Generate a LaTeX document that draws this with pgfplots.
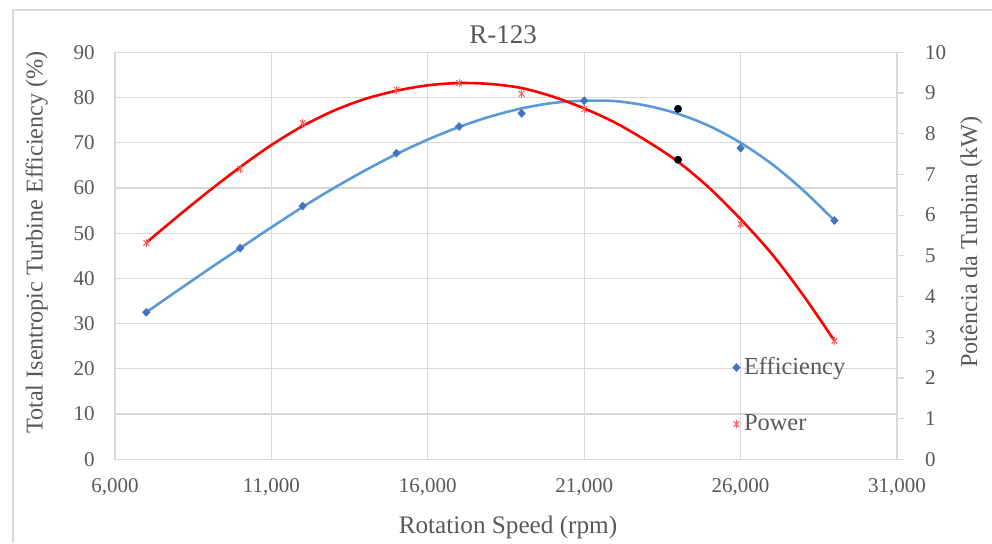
\documentclass[border=0pt]{standalone}
\usepackage{fontspec}
\setmainfont{Liberation Serif}
\usepackage{pgfplots}
\pgfplotsset{compat=1.18}
\definecolor{effblue}{HTML}{4472C4}
\definecolor{trendblue}{HTML}{5B9BD5}
\definecolor{powred}{HTML}{FF5B5B}
\definecolor{trendred}{HTML}{FF0000}
\definecolor{txtgray}{HTML}{595959}
\definecolor{gridgray}{HTML}{D9D9D9}
\pgfplotsset{
  common/.style={
    at={(57.5pt,41.85pt)}, anchor=south west,
    scale only axis, width=391pt, height=203.5pt,
    xmin=6000, xmax=31000,
    xtick={6000,11000,16000,21000,26000,31000},
    scaled x ticks=false, scaled y ticks=false,
    /pgf/number format/assume math mode=true,
    ticklabel style={font=\fontsize{10.5}{12}\selectfont, text=txtgray},
  },
  starlegend/.style={legend image code/.code={\draw[##1] plot coordinates {(0pt,0pt)}; \draw[##1, mark=|] plot coordinates {(0pt,0pt)};}},
  effmark/.style={only marks, mark=diamond*, mark size=1.9pt, color=effblue, mark options={xscale=1.25}},
}
\begin{document}
\begin{tikzpicture}[x=1pt,y=1pt]
\useasboundingbox (0,0) rectangle (496,271.5);
\fill[white] (0,0) rectangle (496,271.5);
\draw[gridgray, line width=0.6pt] (6.5,0) -- (6.5,266.5) -- (496,266.5);
\begin{axis}[common, ymin=0, ymax=90, ytick={0,10,...,90},
  axis line style={gridgray, line width=0.6pt},
  grid=major, major grid style={gridgray, line width=0.6pt},
  major tick length=0pt,
  xticklabel style={yshift=-6.2pt},
  yticklabel style={xshift=-6.7pt},
]
\addplot[trendblue, line width=1.3pt, smooth, forget plot] coordinates {
(7000,32.5) (8000,37.3) (9000,42.05) (10000,46.7) (11000,51.3) (12000,55.8)
(13000,60.0) (14000,63.9) (15000,67.5) (16000,70.7) (17000,73.5) (18000,75.8)
(19000,77.6) (20000,78.8) (21000,79.3) (22000,79.2) (23000,78.2) (24000,76.4)
(25000,73.7) (26000,70.0) (27000,65.3) (28000,59.5) (29000,52.8)};
\addplot[effmark, forget plot] coordinates {
(7000,32.5) (10000,46.7) (12000,56.0) (15000,67.7) (17000,73.6) (19000,76.5)
(21000,79.3) (26000,68.8) (29000,52.8)};
\addplot[only marks, mark=*, mark size=1.75pt, color=black, forget plot] coordinates {(24000,77.5)};
\end{axis}
\begin{axis}[common, ymin=0, ymax=10, ytick={0,1,...,10},
  axis x line=none, axis y line*=right,
  y axis line style={gridgray, line width=0.6pt},
  ytick style={gridgray, line width=0.6pt}, tick align=outside, major tick length=3.5pt,
  ytick pos=right,
  yticklabel style={xshift=7pt},
  legend cell align=left,
  legend style={draw=none, fill=none, at={(0.782,0.271)}, anchor=north west,
    font=\fontsize{12.2}{14}\selectfont, text=txtgray, row sep=14.5pt,
    /tikz/every even column/.style={column sep=3.5pt}},
  legend image code/.code={\draw[#1] plot coordinates {(0pt,0pt)};},
]
\addlegendimage{effmark}
\addlegendentry{Efficiency}
\addplot[trendred, line width=1.3pt, smooth, forget plot] coordinates {
(7000,5.322) (8000,5.967) (9000,6.589) (10000,7.178) (11000,7.722) (12000,8.189)
(13000,8.567) (14000,8.856) (15000,9.056) (16000,9.189) (17000,9.244) (18000,9.222)
(19000,9.122) (20000,8.911) (21000,8.622) (22000,8.267) (23000,7.822) (24000,7.311)
(25000,6.667) (26000,5.900) (27000,5.044) (28000,4.033) (29000,2.911)};
\addplot[only marks, mark=x, mark size=2pt, color=powred, line width=0.5pt, starlegend] coordinates {
(7000,5.32) (10000,7.13) (12000,8.26) (15000,9.08) (17000,9.24) (19000,8.98)
(21000,8.60) (26000,5.78) (29000,2.91)};
\addlegendentry{Power}
\addplot[only marks, mark=|, mark size=2pt, color=powred, line width=0.5pt, forget plot] coordinates {
(7000,5.32) (10000,7.13) (12000,8.26) (15000,9.08) (17000,9.24) (19000,8.98)
(21000,8.60) (26000,5.78) (29000,2.91)};
\addplot[only marks, mark=*, mark size=1.75pt, color=black, forget plot] coordinates {(24000,7.36)};
\end{axis}
\node[anchor=base, font=\fontsize{13.5}{16}\selectfont, text=txtgray] at (251.5,250) {R-123};
\node[anchor=base, font=\fontsize{12.6}{15}\selectfont, text=txtgray] at (254,5) {Rotation Speed (rpm)};
\node[anchor=base, rotate=90, font=\fontsize{12.1}{15}\selectfont, text=txtgray] at (21.3,150.3) {Total Isentropic Turbine Efficiency (\%)};
\node[anchor=base, rotate=90, font=\fontsize{12.1}{15}\selectfont, text=txtgray] at (488.5,150.5) {Potência da Turbina (kW)};
\end{tikzpicture}
\end{document}
